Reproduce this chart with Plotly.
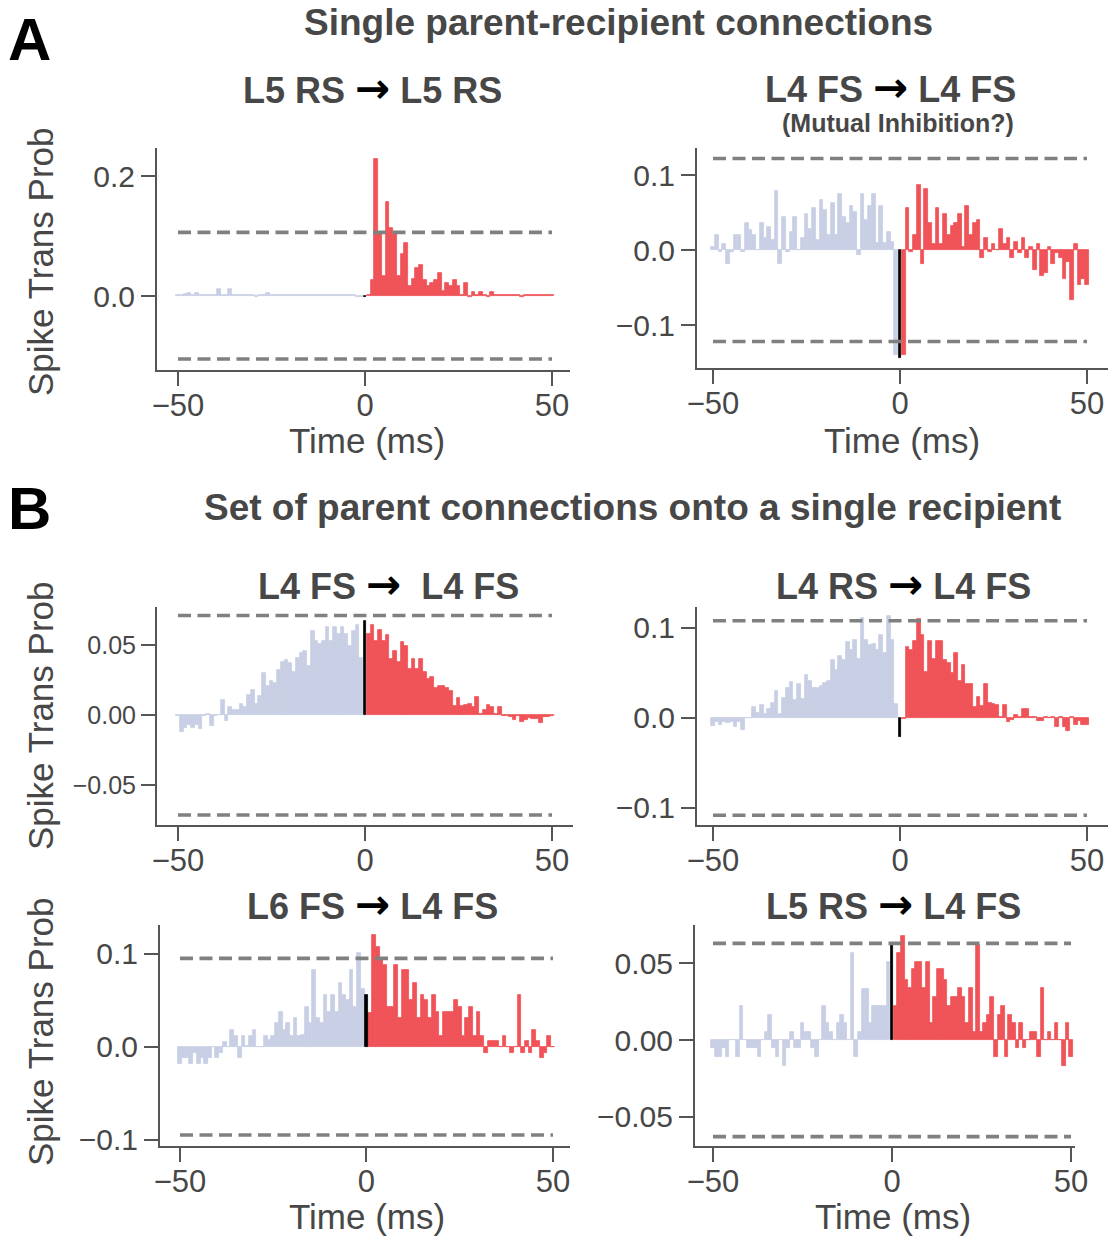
import plotly.graph_objects as go

W, H = 1110, 1238
FONT = "Liberation Sans, Arial, Helvetica, sans-serif"
BLUE = "#c8cfe4"
RED = "#ef5358"
TXT = "#474747"
AX = "#555555"
DASH = "#808080"

lags_neg = list(range(-50, 0))
lags_pos = list(range(1, 51))

# ---------- data (spike transmission probability per 1 ms lag bin) ----------
a1_neg = [0.001, 0.001, 0.003, 0.005, 0.002, 0.005, 0.002, 0.001, 0.001, 0.001,
          0.002, 0.012, 0.001, 0.001, 0.012, 0.001, 0.001, 0.001, 0.002, 0.002,
          0.001, -0.001, 0.002, 0.001, 0.005, 0.001, 0.001, 0.001, 0.001, 0.001,
          0.001, 0.002, 0.001, 0.002, 0.001, 0.001, 0.001, 0.001, 0.001, 0.001,
          0.001, 0.001, 0.001, 0.001, 0.002, 0.001, 0.002, 0.001, -0.001, -0.001]
a1_zero = -0.002
a1_pos = [0.001, 0.027, 0.228, 0.104, 0.033, 0.156, 0.113, 0.103, 0.033, 0.070,
          0.088, 0.016, 0.028, 0.046, 0.051, 0.027, 0.016, 0.021, 0.027, 0.039,
          0.009, 0.021, 0.016, 0.027, 0.016, 0.002, 0.021, -0.001, 0.007, 0.002,
          0.007, 0.001, -0.001, 0.007, 0.001, 0.001, 0.001, 0.001, 0.001, 0.001,
          0.002, -0.001, 0.001, 0.001, 0.002, 0.001, 0.001, 0.001, 0.002, 0.001]
a1_thr = [0.106, -0.105]

a2_neg = [0.004, 0.020, -0.002, 0.008, -0.018, -0.002, 0.020, 0.020, -0.002, 0.036,
          0.027, 0.020, 0.000, 0.036, 0.016, 0.031, 0.013, 0.079, -0.018, 0.044,
          -0.002, 0.024, 0.044, 0.000, 0.016, 0.048, 0.028, 0.056, 0.013, 0.067,
          0.053, 0.020, 0.063, 0.020, 0.075, 0.044, 0.036, 0.059, 0.051, -0.007,
          0.075, 0.040, 0.059, 0.075, 0.009, 0.059, 0.009, 0.024, 0.011, -0.140]
a2_zero = -0.144
a2_pos = [-0.140, 0.056, -0.002, 0.020, 0.087, -0.018, 0.082, 0.036, 0.008, 0.056,
          0.008, 0.048, 0.020, 0.032, 0.036, 0.048, 0.004, 0.059, 0.020, 0.036,
          0.040, -0.011, 0.016, -0.002, 0.008, 0.000, 0.028, 0.008, 0.016, -0.011,
          0.011, -0.004, 0.016, -0.011, 0.004, -0.027, 0.008, -0.035, -0.031, 0.004,
          -0.018, -0.004, -0.011, -0.038, -0.016, -0.066, 0.008, -0.047, -0.038, -0.047]
a2_thr = [0.122, -0.122]

b1_neg = [-0.001, -0.012, -0.0095, -0.007, -0.0095, -0.007, -0.010, -0.001, 0.0005, -0.008,
          -0.001, 0.000, 0.011, -0.004, 0.006, 0.0036, 0.0036, 0.008, 0.0055, 0.014,
          0.018, 0.008, 0.0136, 0.030, 0.021, 0.024, 0.023, 0.032, 0.038, 0.039,
          0.037, 0.031, 0.041, 0.044, 0.046, 0.035, 0.060, 0.053, 0.051, 0.053,
          0.063, 0.053, 0.063, 0.058, 0.063, 0.058, 0.049, 0.060, 0.064, 0.041]
b1_zero = 0.067
b1_pos = [0.058, 0.064, 0.053, 0.061, 0.053, 0.057, 0.040, 0.046, 0.038, 0.052,
          0.049, 0.033, 0.040, 0.033, 0.040, 0.031, 0.026, 0.027, 0.019, 0.021,
          0.021, 0.019, 0.017, 0.0064, 0.012, 0.0064, 0.007, 0.008, 0.006, 0.013,
          0.0007, 0.0036, 0.007, 0.0055, 0.001, 0.006, -0.001, -0.0007, -0.0017, -0.0036,
          -0.0007, -0.0048, -0.0036, -0.0024, -0.003, -0.003, -0.006, -0.0017, -0.0012, -0.001]
b1_thr = [0.071, -0.0715]

b2_neg = [-0.009, -0.004, -0.008, -0.004, -0.006, -0.004, -0.010, -0.005, -0.013, 0.000,
          0.000, 0.012, 0.005, 0.014, 0.004, 0.010, 0.017, 0.030, 0.004, 0.022,
          0.033, 0.040, 0.020, 0.038, 0.021, 0.048, 0.041, 0.033, 0.033, 0.035,
          0.039, 0.041, 0.064, 0.053, 0.069, 0.064, 0.084, 0.076, 0.087, 0.066,
          0.111, 0.087, 0.081, 0.082, 0.076, 0.092, 0.072, 0.113, 0.087, 0.016]
b2_zero = -0.021
b2_pos = [-0.0015, 0.079, 0.076, 0.085, 0.110, 0.092, 0.051, 0.086, 0.066, 0.085,
          0.085, 0.064, 0.061, 0.050, 0.072, 0.041, 0.059, 0.038, 0.038, 0.012,
          0.023, 0.013, 0.038, 0.017, 0.016, 0.014, 0.0007, 0.014, -0.005, -0.002,
          0.003, 0.0007, 0.010, 0.010, 0.0015, 0.0015, -0.003, -0.003, 0.0015, -0.0004,
          0.0015, -0.010, 0.0015, -0.010, -0.015, 0.0015, -0.008, -0.003, -0.008, -0.008]
b2_thr = [0.108, -0.108]

b3_neg = [-0.019, -0.012, -0.012, -0.019, -0.007, -0.019, -0.012, -0.019, -0.012, 0.000,
          -0.012, -0.007, 0.005, 0.000, 0.018, 0.011, -0.012, 0.011, 0.001, 0.011,
          0.018, 0.000, 0.000, 0.011, 0.007, 0.012, 0.025, 0.037, 0.018, 0.025,
          0.011, 0.031, 0.011, 0.013, 0.043, 0.025, 0.082, 0.031, 0.025, 0.056,
          0.037, 0.056, 0.037, 0.068, 0.056, 0.050, 0.082, 0.043, 0.101, 0.062]
b3_zero = 0.056
b3_pos = [0.036, 0.120, 0.107, 0.095, 0.088, 0.043, 0.043, 0.088, 0.031, 0.082,
          0.082, 0.050, 0.069, 0.031, 0.056, 0.050, 0.031, 0.056, 0.037, 0.012,
          0.037, 0.037, 0.037, 0.050, 0.043, 0.012, 0.031, 0.043, 0.012, 0.037,
          0.012, -0.007, 0.006, 0.006, 0.006, 0.000, 0.012, 0.000, -0.007, 0.000,
          0.056, -0.007, 0.006, -0.007, 0.018, 0.006, -0.012, -0.007, 0.012, 0.000]
b3_thr = [0.095, -0.095]

b4_neg = [-0.005, -0.011, -0.011, -0.005, -0.011, 0.000, 0.000, -0.011, 0.022, 0.000,
          -0.005, -0.005, -0.005, -0.011, 0.000, 0.005, 0.016, -0.005, -0.011, 0.000,
          -0.017, -0.005, 0.005, -0.005, -0.005, 0.011, 0.005, 0.005, -0.005, -0.011,
          0.000, 0.022, 0.011, 0.005, 0.000, 0.011, 0.016, 0.011, 0.000, 0.057,
          -0.011, 0.005, 0.033, 0.033, 0.011, 0.022, 0.022, 0.022, 0.022, 0.051]
b4_zero = 0.063
b4_pos = [0.022, 0.057, 0.068, 0.039, 0.034, 0.046, 0.051, 0.051, 0.034, 0.051,
          0.011, 0.028, 0.046, 0.046, 0.039, 0.022, 0.028, 0.028, 0.034, 0.028,
          0.011, 0.034, 0.005, 0.062, 0.005, 0.011, 0.016, 0.028, -0.011, 0.016,
          0.022, -0.011, 0.016, 0.011, -0.005, 0.011, -0.005, 0.000, 0.005, 0.005,
          -0.011, 0.034, 0.000, 0.005, 0.000, 0.011, 0.000, -0.017, 0.011, -0.011]
b4_thr = [0.063, -0.063]

x_ticks = [-50, 0, 50]
x_ticktext = ["\u221250", "0", "50"]

panels = [
    dict(neg=a1_neg, zero=a1_zero, pos=a1_pos, thr=a1_thr,
         box=(157, 570, 148, 370), xr=[-55.61, 54.81], yr=[-0.1233, 0.2467],
         yt=[0.0, 0.2], ytt=["0.0", "0.2"], tf=30),
    dict(neg=a2_neg, zero=a2_zero, pos=a2_pos, thr=a2_thr,
         box=(697, 1108, 148, 368), xr=[-54.28, 55.61], yr=[-0.1573, 0.136],
         yt=[-0.1, 0.0, 0.1], ytt=["\u22120.1", "0.0", "0.1"], tf=30),
    dict(neg=b1_neg, zero=b1_zero, pos=b1_pos, thr=b1_thr,
         box=(157, 573, 607, 825), xr=[-55.61, 55.61], yr=[-0.0786, 0.0771],
         yt=[-0.05, 0.0, 0.05], ytt=["\u22120.05", "0.00", "0.05"], tf=25),
    dict(neg=b2_neg, zero=b2_zero, pos=b2_pos, thr=b2_thr,
         box=(697, 1108, 607, 825), xr=[-54.28, 55.61], yr=[-0.1189, 0.1233],
         yt=[-0.1, 0.0, 0.1], ytt=["\u22120.1", "0.0", "0.1"], tf=30),
    dict(neg=b3_neg, zero=b3_zero, pos=b3_pos, thr=b3_thr,
         box=(160, 570, 925, 1146), xr=[-55.36, 54.56], yr=[-0.1068, 0.1309],
         yt=[-0.1, 0.0, 0.1], ytt=["\u22120.1", "0.0", "0.1"], tf=30),
    dict(neg=b4_neg, zero=b4_zero, pos=b4_pos, thr=b4_thr,
         box=(695, 1075, 925, 1146), xr=[-55.03, 51.12], yr=[-0.0691, 0.075],
         yt=[-0.05, 0.0, 0.05], ytt=["\u22120.05", "0.00", "0.05"], tf=30),
]


def px_x(px):
    return px / W


def px_y(py):
    return 1 - py / H


fig = go.Figure()
layout = {}
for i, p in enumerate(panels):
    sfx = "" if i == 0 else str(i + 1)
    xa, ya = "x" + sfx, "y" + sfx
    fig.add_trace(go.Bar(x=lags_neg, y=p["neg"], width=1, xaxis=xa, yaxis=ya,
                         marker=dict(color=BLUE, line=dict(color=BLUE, width=0.8)),
                         opacity=1, showlegend=False))
    fig.add_trace(go.Bar(x=lags_pos, y=p["pos"], width=1, xaxis=xa, yaxis=ya,
                         marker=dict(color=RED, line=dict(color=RED, width=0.8)),
                         opacity=1, showlegend=False))
    fig.add_trace(go.Bar(x=[0], y=[p["zero"]], width=0.75, xaxis=xa, yaxis=ya,
                         marker=dict(color="black", line=dict(color="black", width=0.8)),
                         opacity=1, showlegend=False))
    for t in p["thr"]:
        fig.add_trace(go.Scatter(x=[-50, 50], y=[t, t], mode="lines", xaxis=xa, yaxis=ya,
                                 line=dict(color=DASH, width=3.6, dash="13px,6.5px"),
                                 showlegend=False, hoverinfo="skip"))
    x0, x1, y0, y1 = p["box"]
    common = dict(showline=True, linecolor=AX, linewidth=2, ticks="outside", ticklen=14,
                  tickwidth=2, tickcolor=AX, showgrid=False, zeroline=False,
                  automargin=False, tickfont=dict(family=FONT, size=31, color=TXT))
    layout["xaxis" + sfx] = dict(common, domain=[px_x(x0), px_x(x1)], range=p["xr"], anchor=ya,
                                 tickmode="array", tickvals=x_ticks, ticktext=x_ticktext,
                                 ticklabelstandoff=-7)
    ycom = dict(common)
    ycom["tickfont"] = dict(family=FONT, size=p["tf"], color=TXT)
    layout["yaxis" + sfx] = dict(ycom, domain=[px_y(y1), px_y(y0)], range=p["yr"], anchor=xa,
                                 tickmode="array", tickvals=p["yt"], ticktext=p["ytt"])


def ann(text, px, py, size, bold=False, color=TXT, angle=0, xanchor="center"):
    t = f"<b>{text}</b>" if bold else text
    return dict(text=t, x=px_x(px), y=px_y(py), xref="paper", yref="paper",
                xanchor=xanchor, yanchor="middle", showarrow=False, textangle=angle,
                font=dict(family=FONT, size=size, color=color))


ARW = "<span style='color:black;font-family:DejaVu Sans;font-size:42px'>\u2192</span>"
annotations = [
    ann("A", 29, 40, 60, bold=True, color="black"),
    ann("B", 29, 508, 60, bold=True, color="black"),
    ann("Single parent-recipient connections", 618, 22, 37, bold=True),
    ann("Set of parent connections onto a single recipient", 632, 507, 37, bold=True),
    ann(f"L5 RS {ARW} L5 RS", 372, 89, 36, bold=True),
    ann(f"L4 FS {ARW} L4 FS", 890, 87, 36, bold=True),
    ann("(Mutual Inhibition?)", 898, 123, 25, bold=True),
    ann(f"L4 FS {ARW}  L4 FS", 388, 584, 36, bold=True),
    ann(f"L4 RS {ARW} L4 FS", 903, 584, 36, bold=True),
    ann(f"L6 FS {ARW} L4 FS", 372, 904, 36, bold=True),
    ann(f"L5 RS {ARW} L4 FS", 893, 904, 36, bold=True),
    ann("Spike Trans Prob", 40, 262, 35, angle=-90),
    ann("Spike Trans Prob", 40, 716, 35, angle=-90),
    ann("Spike Trans Prob", 40, 1032, 35, angle=-90),
    ann("Time (ms)", 367, 440, 35),
    ann("Time (ms)", 902, 440, 35),
    ann("Time (ms)", 367, 1216, 35),
    ann("Time (ms)", 893, 1216, 35),
]

fig.update_layout(**layout)
fig.update_layout(width=W, height=H, margin=dict(l=0, r=0, t=0, b=0, autoexpand=False),
                  paper_bgcolor="white", plot_bgcolor="white", barmode="overlay",
                  bargap=0, annotations=annotations, showlegend=False,
                  font=dict(family=FONT, color=TXT))
fig.write_html("out.html", config={"responsive": False, "displayModeBar": False},
               post_script="document.body.style.margin='0';document.body.style.overflow='hidden';")
